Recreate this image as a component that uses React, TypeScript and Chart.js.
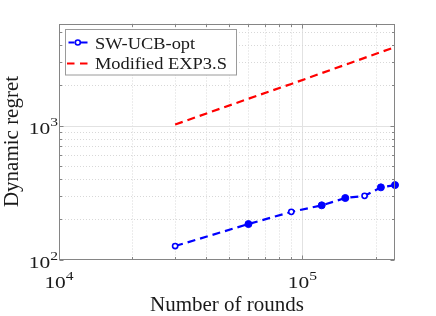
import React, { useEffect, useRef } from 'react';
import { Chart, registerables } from 'chart.js';

Chart.register(...registerables);

// ---- data ----
const rounds = [30000, 60000, 90000, 120000, 150000, 180000, 210000, 240000];
const swUcbOpt = [126, 184, 227, 254, 288, 299, 346, 360];
const modifiedExp3s = [1020, 1590, 2050, 2470, 2850, 3210, 3550, 3860];
const swUcbFilled = [false, true, false, true, true, false, true, true];
const seriesLabels = ['SW-UCB-opt', 'Modified EXP3.S'];
const xTitle = 'Number of rounds';
const yTitle = 'Dynamic regret';
const xExponents = [4, 5];
const yExponents = [2, 3];
const xMin = 1e4;
const xMax = 2.4e5;
const yMin = 100;
const yMax = 5800;

const FONT = '"Liberation Serif", "Times New Roman", serif';
const TEXT = '#1a1a1a';
const AXIS = '#858585';
const BLUE = '#0000ff';
const RED = '#ff0000';

function logTicks(min: number, max: number) {
  const out: { v: number; major: boolean }[] = [];
  const e0 = Math.floor(Math.log10(min));
  const e1 = Math.ceil(Math.log10(max));
  for (let e = e0; e <= e1; e++) {
    for (let m = 1; m < 10; m++) {
      const v = m * Math.pow(10, e);
      if (v >= min * 0.9999 && v <= max * 1.0001) out.push({ v, major: m === 1 });
    }
  }
  return out;
}

function drawPow(ctx: CanvasRenderingContext2D, exp: number, x: number, baseline: number, align: 'center' | 'right') {
  const sx = 1.3;
  const baseFont = `16.5px ${FONT}`;
  const supFont = `12px ${FONT}`;
  ctx.font = baseFont;
  const wb = ctx.measureText('10').width * sx;
  ctx.font = supFont;
  const ws = ctx.measureText(String(exp)).width * sx;
  const total = wb + ws;
  const left = align === 'center' ? x - total / 2 : x - total;
  ctx.save();
  ctx.translate(left, baseline);
  ctx.scale(sx, 1);
  ctx.font = baseFont;
  ctx.fillText('10', 0, 0);
  ctx.restore();
  ctx.save();
  ctx.translate(left + wb, baseline - 8);
  ctx.scale(sx, 1);
  ctx.font = supFont;
  ctx.fillText(String(exp), 0, 0);
  ctx.restore();
}

const matlabAxes = {
  id: 'matlabAxes',
  beforeDatasetsDraw(chart: any) {
    const { ctx, chartArea: a, scales } = chart;
    const xs = scales.x;
    const ys = scales.y;
    ctx.save();
    ctx.lineWidth = 1;
    for (const t of logTicks(xMin, xMax)) {
      const px = Math.round(xs.getPixelForValue(t.v)) + 0.5;
      if (px <= a.left + 1 || px >= a.right - 1) continue;
      ctx.strokeStyle = t.major ? '#e2e2e2' : '#d8d8d8';
      ctx.setLineDash(t.major ? [] : [1, 2]);
      ctx.beginPath();
      ctx.moveTo(px, a.top);
      ctx.lineTo(px, a.bottom);
      ctx.stroke();
    }
    for (const t of logTicks(yMin, yMax)) {
      const py = Math.round(ys.getPixelForValue(t.v)) + 0.5;
      if (py <= a.top + 1 || py >= a.bottom - 1) continue;
      ctx.strokeStyle = t.major ? '#e2e2e2' : '#d8d8d8';
      ctx.setLineDash(t.major ? [] : [1, 2]);
      ctx.beginPath();
      ctx.moveTo(a.left, py);
      ctx.lineTo(a.right, py);
      ctx.stroke();
    }
    ctx.restore();
  },
  afterDatasetsDraw(chart: any) {
    const { ctx, chartArea: a, scales } = chart;
    const xs = scales.x;
    const ys = scales.y;
    ctx.save();
    // axes box
    ctx.setLineDash([]);
    ctx.strokeStyle = AXIS;
    ctx.lineWidth = 1;
    const L = Math.round(a.left) + 0.5;
    const R = Math.round(a.right) - 0.5;
    const T = Math.round(a.top) + 0.5;
    const B = Math.round(a.bottom) - 0.5;
    ctx.strokeRect(L, T, R - L, B - T);
    // tick marks
    ctx.beginPath();
    for (const t of logTicks(xMin, xMax)) {
      const px = Math.round(xs.getPixelForValue(t.v)) + 0.5;
      const len = t.major ? 4 : 2.5;
      ctx.moveTo(px, B);
      ctx.lineTo(px, B - len);
      ctx.moveTo(px, T);
      ctx.lineTo(px, T + len);
    }
    for (const t of logTicks(yMin, yMax)) {
      const py = Math.round(ys.getPixelForValue(t.v)) + 0.5;
      const len = t.major ? 4 : 2.5;
      ctx.moveTo(L, py);
      ctx.lineTo(L + len, py);
      ctx.moveTo(R, py);
      ctx.lineTo(R - len, py);
    }
    ctx.stroke();
    // tick labels
    ctx.fillStyle = TEXT;
    ctx.textAlign = 'left';
    ctx.textBaseline = 'alphabetic';
    for (const e of xExponents) {
      const px = xs.getPixelForValue(Math.pow(10, e));
      drawPow(ctx, e, px, a.bottom + 28, 'center');
    }
    for (const e of yExponents) {
      const py = ys.getPixelForValue(Math.pow(10, e));
      drawPow(ctx, e, a.left - 1, py + 8, 'right');
    }
    // legend
    const bx = 65.5, by = 29.5, bw = 171, bh = 45.5;
    ctx.fillStyle = '#ffffff';
    ctx.fillRect(bx, by, bw, bh);
    ctx.strokeStyle = '#9a9a9a';
    ctx.lineWidth = 1;
    ctx.strokeRect(bx, by, bw, bh);
    const r1 = 42.5, r2 = 63.5;
    ctx.lineWidth = 2.2;
    ctx.strokeStyle = BLUE;
    ctx.beginPath();
    ctx.moveTo(68.5, r1);
    ctx.lineTo(74.5, r1);
    ctx.moveTo(81, r1);
    ctx.lineTo(87.5, r1);
    ctx.stroke();
    ctx.lineWidth = 1.6;
    ctx.fillStyle = '#ffffff';
    ctx.beginPath();
    ctx.arc(77.8, r1, 2.5, 0, Math.PI * 2);
    ctx.fill();
    ctx.stroke();
    ctx.lineWidth = 2.2;
    ctx.strokeStyle = RED;
    ctx.beginPath();
    ctx.moveTo(67, r2);
    ctx.lineTo(74.5, r2);
    ctx.moveTo(80, r2);
    ctx.lineTo(87.5, r2);
    ctx.stroke();
    ctx.fillStyle = TEXT;
    const sx = 1.15;
    const drawText = (s: string, x: number, y: number) => {
      ctx.save();
      ctx.translate(x, y);
      ctx.scale(sx, 1);
      ctx.font = `16px ${FONT}`;
      ctx.fillText(s, 0, 0);
      ctx.restore();
    };
    drawText(seriesLabels[0], 95, 48.5);
    drawText(seriesLabels[1], 95, 69);
    ctx.restore();
  },
};

export default function App() {
  const ref = useRef<HTMLCanvasElement | null>(null);
  useEffect(() => {
    document.body.style.margin = '0';
    const canvas = ref.current;
    if (!canvas) return;
    const chart = new Chart(canvas, {
      type: 'line',
      data: {
        datasets: [
          {
            label: seriesLabels[0],
            data: rounds.map((x, i) => ({ x, y: swUcbOpt[i] })),
            borderColor: BLUE,
            borderWidth: 2.2,
            borderDash: [8, 5],
            pointRadius: swUcbFilled.map((f) => (f ? 3.5 : 2.6)),
            pointBorderWidth: swUcbFilled.map((f) => (f ? 1 : 1.6)),
            pointBackgroundColor: swUcbFilled.map((f) => (f ? BLUE : '#ffffff')),
            pointBorderColor: BLUE,
            tension: 0,
            clip: false as any,
            order: 0,
          },
          {
            label: seriesLabels[1],
            data: rounds.map((x, i) => ({ x, y: modifiedExp3s[i] })),
            borderColor: RED,
            borderWidth: 2.2,
            borderDash: [8, 5],
            pointRadius: 0,
            tension: 0,
            clip: false as any,
            order: 1,
          },
        ],
      },
      options: {
        animation: false,
        responsive: false,
        devicePixelRatio: 1,
        layout: { padding: { top: 23.5, right: 41, left: 0, bottom: 0 } },
        plugins: { legend: { display: false }, tooltip: { enabled: false } },
        scales: {
          x: {
            type: 'logarithmic',
            min: xMin,
            max: xMax,
            grid: { display: false },
            border: { display: false },
            ticks: { display: false },
            title: {
              display: true,
              text: xTitle,
              color: TEXT,
              font: { family: FONT, size: 21, lineHeight: 1 },
              padding: { top: 0, bottom: 0 },
            },
            afterFit: (s: any) => {
              s.height = 56.5;
            },
          },
          y: {
            type: 'logarithmic',
            min: yMin,
            max: yMax,
            grid: { display: false },
            border: { display: false },
            ticks: { display: false },
            title: {
              display: true,
              text: yTitle,
              color: TEXT,
              font: { family: FONT, size: 21, lineHeight: 1 },
              padding: { top: 2, bottom: 0 },
            },
            afterFit: (s: any) => {
              s.width = 59;
            },
          },
        },
      },
      plugins: [matlabAxes],
    });
    return () => chart.destroy();
  }, []);
  return (
    <div style={{ position: 'fixed', left: 0, top: 0, width: 436, height: 316, background: '#ffffff' }}>
      <canvas ref={ref} width={436} height={316} style={{ display: 'block' }} />
    </div>
  );
}
